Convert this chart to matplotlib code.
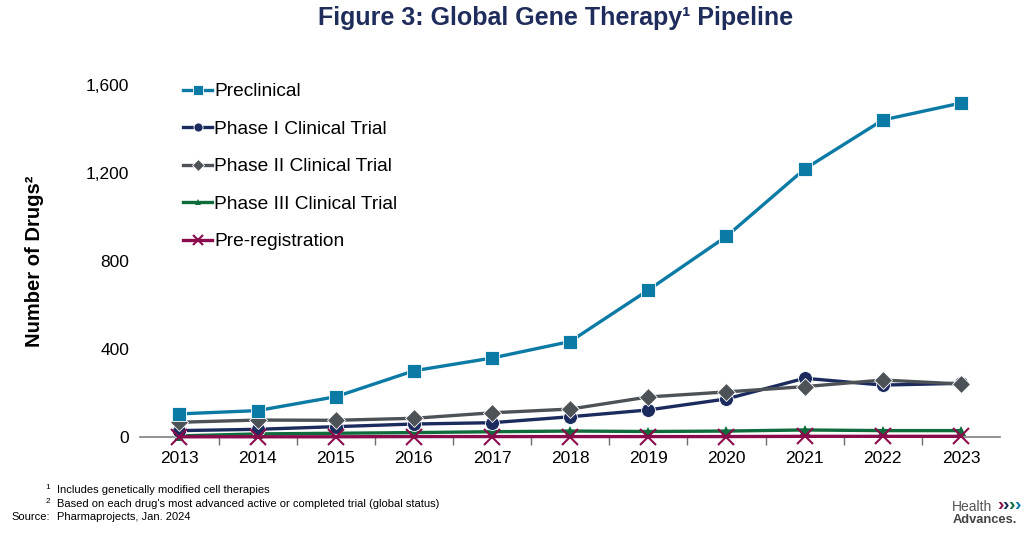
import matplotlib.pyplot as plt

plt.rcParams['font.family'] = ['Liberation Sans', 'DejaVu Sans']

years = [2013, 2014, 2015, 2016, 2017, 2018, 2019, 2020, 2021, 2022, 2023]
preclinical = [105, 120, 183, 301, 359, 434, 668, 912, 1218, 1441, 1518]
phase1 = [29, 35, 47, 59, 65, 92, 123, 173, 267, 236, 244]
phase2 = [67, 77, 76, 85, 110, 127, 182, 205, 229, 259, 241]
phase3 = [5, 14, 17, 20, 24, 27, 25, 27, 32, 29, 29]
prereg = [1, 1, 1, 2, 2, 2, 2, 2, 3, 3, 3]

fig = plt.figure(figsize=(10.32, 5.36), dpi=100)
ax = fig.add_axes([0.136, 0.1847, 0.833, 0.6567])

ax.plot(years, preclinical, color='#0B7AA5', lw=2.4, marker='s', ms=10,
        markeredgecolor='white', markeredgewidth=0.6, label='Preclinical', clip_on=False, zorder=6)
ax.plot(years, phase1, color='#1C2B5E', lw=2.4, marker='o', ms=10,
        markeredgecolor='white', markeredgewidth=0.6, label='Phase I Clinical Trial', clip_on=False, zorder=4)
ax.plot(years, phase2, color='#4D5257', lw=2.4, marker='D', ms=9,
        markeredgecolor='white', markeredgewidth=0.6, label='Phase II Clinical Trial', clip_on=False, zorder=5)
ax.plot(years, phase3, color='#0E6B3B', lw=2.4, marker='^', ms=7,
        markeredgewidth=0, label='Phase III Clinical Trial', clip_on=False, zorder=3)
ax.plot(years, prereg, color='#8A0C4C', lw=2.4, marker='x', ms=11, mew=1.5,
        label='Pre-registration', clip_on=False, zorder=7)

ax.set_xlim(2012.5, 2023.5)
ax.set_ylim(0, 1600)
ax.set_yticks([0, 400, 800, 1200, 1600])
ax.set_yticklabels(['0', '400', '800', '1,200', '1,600'])
ax.set_xticks(years)
ax.set_xticks([y + 0.5 for y in years[:-1]], minor=True)
ax.tick_params(axis='x', which='major', length=0, labelsize=12.5, pad=10)
ax.tick_params(axis='x', which='minor', length=6, direction='out', color='#6f6f6f', width=1)
ax.tick_params(axis='y', length=0, labelsize=12.5, pad=8)
for s in ['top', 'right', 'left']:
    ax.spines[s].set_visible(False)
ax.spines['bottom'].set_color('#7f7f7f')
ax.spines['bottom'].set_linewidth(1.2)

ax.set_ylabel('Number of Drugs²', fontsize=14.5, fontweight='bold')
ax.yaxis.set_label_coords(-0.112, 0.5)

leg = ax.legend(loc='upper left', bbox_to_anchor=(0.03, 1.055), frameon=False, fontsize=13.8,
                handlelength=1.5, handletextpad=0.1, labelspacing=1.05, markerscale=0.65)

fig.text(0.538, 0.966, 'Figure 3: Global Gene Therapy¹ Pipeline', ha='center', va='center',
         fontsize=18, fontweight='bold', color='#1F2D5C')

fig.text(0.046, 0.09, '1', fontsize=6, ha='center', va='center')
fig.text(0.055, 0.085, 'Includes genetically modified cell therapies', fontsize=8, va='center')
fig.text(0.046, 0.065, '2', fontsize=6, ha='center', va='center')
fig.text(0.055, 0.06, "Based on each drug's most advanced active or completed trial (global status)",
         fontsize=8, va='center')
fig.text(0.011, 0.035, 'Source:', fontsize=8, va='center')
fig.text(0.055, 0.035, 'Pharmaprojects, Jan. 2024', fontsize=8, va='center')

fig.text(0.922, 0.055, 'Health', fontsize=10, color='#555555', va='center', ha='left')
chev_colors = ['#8A0C4C', '#1C2B5E', '#0E6B3B', '#0B7AA5']
for i, c in enumerate(chev_colors):
    fig.text(0.966 + i * 0.0055, 0.057, '›', fontsize=14, fontweight='bold', color=c, va='center')
fig.text(0.923, 0.029, 'Advances.', fontsize=9.3, fontweight='bold', color='#444444', va='center', ha='left')

fig.savefig('out.png', dpi=100)
